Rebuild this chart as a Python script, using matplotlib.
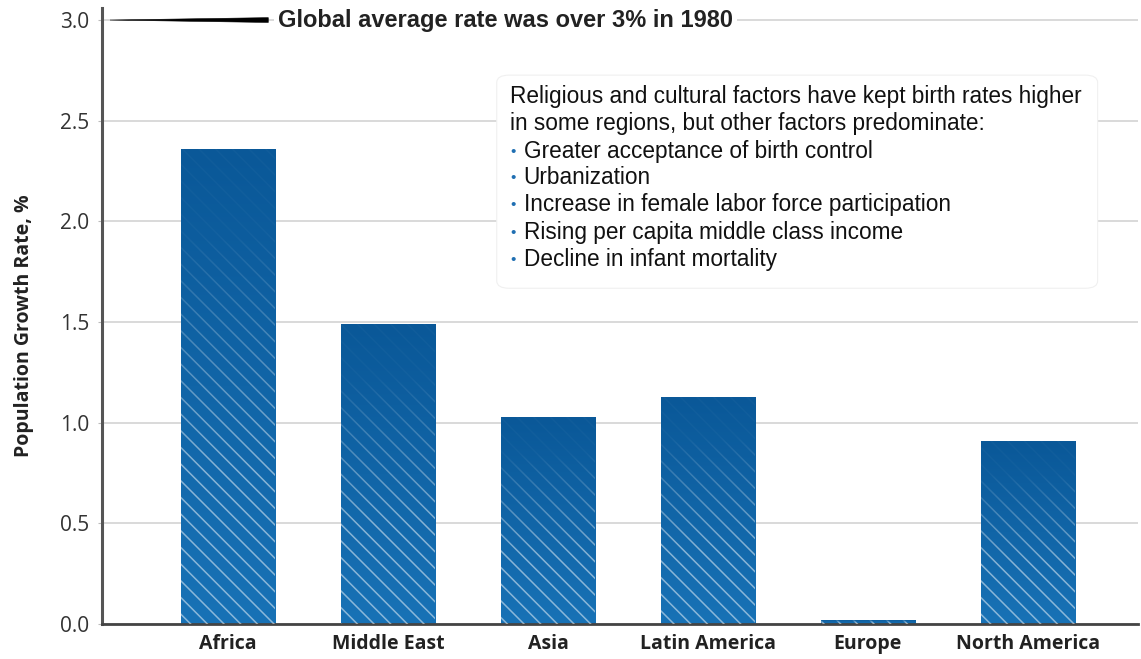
import matplotlib.pyplot as plt
import numpy as np
from matplotlib.patches import FancyBboxPatch

# data
regions = ['Africa', 'Middle East', 'Asia', 'Latin America', 'Europe', 'North America']
growth = [2.36, 1.49, 1.03, 1.13, 0.02, 0.91]
yticks = [0.0, 0.5, 1.0, 1.5, 2.0, 2.5, 3.0]
global_1980 = 3.0
headline = 'Global average rate was over 3% in 1980'
note_head = ['Religious and cultural factors have kept birth rates higher',
             'in some regions, but other factors predominate:']
note_items = ['Greater acceptance of birth control',
              'Urbanization',
              'Increase in female labor force participation',
              'Rising per capita middle class income',
              'Decline in infant mortality']

top_col = np.array([10, 88, 152]) / 255.
bot_col = np.array([24, 114, 182]) / 255.

plt.rcParams['hatch.linewidth'] = 1.1

fig = plt.figure(figsize=(11.41, 6.59), dpi=100)
ax = fig.add_axes([0.0894, 0.0531, 0.908, 0.9348])

ind = np.arange(len(regions))

# bars: gradient fill clipped to each bar, white hatch fading towards the top
bars = ax.bar(ind, growth, width=0.59, color='none', linewidth=0, zorder=2)
t = np.linspace(0, 1, 128)[:, None]
for b in bars:
    x0, w, h = b.get_x(), b.get_width(), b.get_height()
    base = np.ones((128, 1, 4))
    base[:, 0, :3] = top_col * (1 - t) + bot_col * t
    im = ax.imshow(base, extent=[x0, x0 + w, 0, h], origin='upper',
                   aspect='auto', zorder=2, interpolation='bilinear')
    im.set_clip_path(b)
    ax.bar(x0 + w / 2, h, width=w, color='none', edgecolor=(1, 1, 1, 0.5),
           hatch='\\\\', linewidth=0, zorder=3)
    over = base.copy()
    over[:, 0, 3] = np.clip(1.35 - 2.0 * t[:, 0], 0, 1) * 0.95
    im2 = ax.imshow(over, extent=[x0, x0 + w, 0, h], origin='upper',
                    aspect='auto', zorder=4, interpolation='bilinear')
    im2.set_clip_path(b)
ax.set_xlim(-0.79, 5.69)
ax.set_ylim(0, 3.06)
ax.set_aspect('auto')

# grid
ax.set_yticks(yticks)
ax.set_yticklabels(['%.1f' % v for v in yticks])
ax.yaxis.grid(True, color='#d3d3d3', linewidth=1.2, zorder=0)
ax.set_axisbelow(True)

ax.spines['right'].set_visible(False)
ax.spines['top'].set_visible(False)
ax.spines['left'].set_color('#555555')
ax.spines['left'].set_linewidth(2.2)
ax.spines['bottom'].set_color('#444444')
ax.spines['bottom'].set_linewidth(2.0)

ax.tick_params(axis='y', length=3, width=0.8, color='#bbbbbb', pad=6,
               labelsize=15, labelcolor='#333333')
ax.tick_params(axis='x', length=0, pad=7)
ax.set_xticks(ind)
ax.set_xticklabels(regions, fontsize=14, fontweight='bold',
                   family='Open Sans', color='#222222')
for lab in ax.get_yticklabels():
    lab.set_family('Open Sans')

ax.set_ylabel('Population Growth Rate, %', fontsize=14, fontweight='bold',
              family='Open Sans', color='#222222')
ax.yaxis.set_label_coords(-0.0655, 0.484)

# 1980 marker: tapered black line and headline
ax.fill([-0.74, 0.25, 0.25], [global_1980, global_1980 + 0.012, global_1980 - 0.012],
        color='black', linewidth=0.4, edgecolor='black', zorder=5)
ax.text(0.31, global_1980, headline, fontsize=17, fontweight='bold',
        family='Liberation Sans', color='#222222', va='center', ha='left',
        zorder=6, bbox=dict(facecolor='white', edgecolor='none', pad=3))

# note box
box = FancyBboxPatch((0.381, 0.545), 0.58, 0.346, transform=ax.transAxes,
                     boxstyle='round,pad=0,rounding_size=0.012',
                     facecolor='white', edgecolor='#f0f0f0', linewidth=0.8,
                     zorder=6)
ax.add_patch(box)

ys = [97, 124, 152, 178, 205, 233, 260]
def to_ax(py):
    return (624 - py) / 616.

for i, s in enumerate(note_head):
    ax.text(0.394, to_ax(ys[i]), s, transform=ax.transAxes, fontsize=16.3,
            family='Liberation Sans', color='#111111', va='center', zorder=7)
for i, s in enumerate(note_items):
    y = to_ax(ys[i + 2])
    ax.text(0.3945, y, '\u2022', transform=ax.transAxes, fontsize=11,
            family='Liberation Sans', color='#1f6fb2', va='center', zorder=7)
    ax.text(0.407, y, s, transform=ax.transAxes, fontsize=16.3,
            family='Liberation Sans', color='#111111', va='center', zorder=7)

plt.savefig('out.png', dpi=100)
